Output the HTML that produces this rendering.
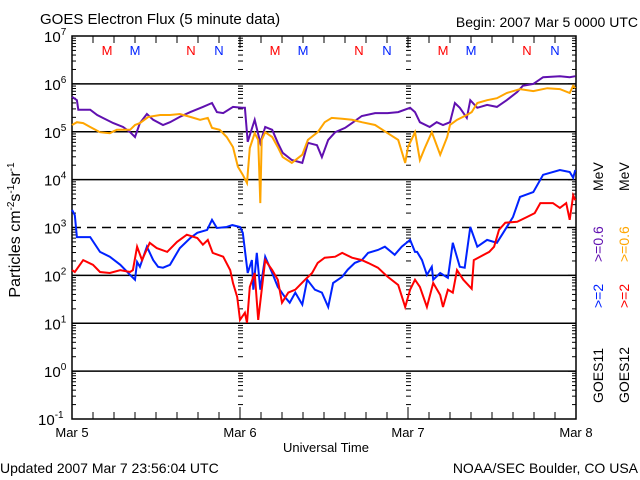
<!DOCTYPE html>
<html><head><meta charset="utf-8"><style>
body{margin:0;background:#fff;width:640px;height:480px;overflow:hidden}
svg{display:block;font-family:"Liberation Sans",sans-serif}
</style></head><body>
<svg id="chart" width="640" height="480">
<text x="40" y="24" font-size="15">GOES Electron Flux (5 minute data)</text>
<text x="638" y="27" font-size="14" text-anchor="end">Begin: 2007 Mar 5 0000 UTC</text>
<text x="0" y="473" font-size="14">Updated 2007 Mar  7 23:56:04 UTC</text>
<text x="638" y="473" font-size="14" text-anchor="end">NOAA/SEC Boulder, CO USA</text>
<text x="326" y="452" font-size="13" text-anchor="middle">Universal Time</text>
<text transform="translate(20,230) rotate(-90)" font-size="16" text-anchor="middle">Particles cm<tspan font-size="10" dy="-6">-2</tspan><tspan dy="6">s</tspan><tspan font-size="10" dy="-6">-1</tspan><tspan dy="6">sr</tspan><tspan font-size="10" dy="-6">-1</tspan></text>
<g font-size="14">
<text transform="translate(603,403) rotate(-90)" fill="#000">GOES11</text>
<text transform="translate(603,308) rotate(-90)" fill="#0022ff">&gt;=2</text>
<text transform="translate(603,262) rotate(-90)" fill="#6010b0">&gt;=0.6</text>
<text transform="translate(603,191) rotate(-90)" fill="#000">MeV</text>
<text transform="translate(629,403) rotate(-90)" fill="#000">GOES12</text>
<text transform="translate(629,308) rotate(-90)" fill="#ff0000">&gt;=2</text>
<text transform="translate(629,262) rotate(-90)" fill="#ffa500">&gt;=0.6</text>
<text transform="translate(629,191) rotate(-90)" fill="#000">MeV</text>
</g>
</svg>
<script>
const dayLabels=["Mar 5","Mar 6","Mar 7","Mar 8"];
const yDecades=[-1,0,1,2,3,4,5,6,7];
const p11Hours=[0,0.7,0.9,2.6,3.6,4.4,5.9,7.3,8.3,9.0,9.7,10.7,11.6,13.0,14.0,15.4,16.9,18.7,20.0,20.7,21.6,23.0,24.3,24.7,25.1,26.1,26.9,27.6,28.6,29.4,30.1,31.4,32.9,33.7,35.0,35.7,36.6,37.6,39.0,40.0,41.4,43.3,45.1,46.6,48.3,49.0,49.7,51.1,52.1,53.0,54.0,54.7,55.4,56.4,56.9,57.9,59.3,60.7,62.1,63.6,64.4,65.9,67.3,69.7,71.1,71.9];
const p11Log=[5.73,5.66,5.46,5.46,5.35,5.29,5.18,5.10,4.99,4.89,5.18,5.37,5.25,5.14,5.20,5.31,5.41,5.52,5.60,5.41,5.39,5.52,5.50,5.50,4.79,5.25,4.77,5.10,5.04,4.77,4.56,4.41,4.35,4.77,4.72,4.47,4.83,4.99,5.08,5.18,5.33,5.39,5.39,5.41,5.50,5.41,5.20,5.10,5.20,5.14,5.20,5.60,5.50,5.29,5.66,5.50,5.56,5.52,5.66,5.83,5.96,6.00,6.14,6.16,6.14,6.16];
const p12Hours=[0,0.7,1.6,2.6,4.0,5.4,6.4,8.3,9.0,9.7,10.9,12.6,14.0,15.4,16.9,18.3,19.4,20.0,21.1,22.1,23.0,23.7,24.4,25.0,25.4,26.1,26.6,26.9,27.1,27.6,28.6,29.4,30.1,31.4,32.9,33.7,35.1,36.1,37.1,38.6,40.0,41.4,43.3,45.1,46.6,47.6,48.0,49.0,49.7,50.4,51.4,52.6,53.6,54.0,55.0,56.4,57.1,57.9,59.3,60.7,62.1,64.0,65.9,67.9,69.7,71.1,71.6,71.9];
const p12Log=[5.14,5.20,5.18,5.10,4.99,4.97,5.04,5.04,5.14,5.18,5.31,5.35,5.35,5.37,5.31,5.25,5.29,5.08,5.04,4.89,4.68,4.27,4.10,3.93,4.66,4.97,4.83,3.51,4.83,4.99,4.89,4.68,4.47,4.35,4.52,4.83,4.99,5.20,5.29,5.27,5.25,5.20,5.14,4.97,4.83,4.35,4.68,4.99,4.41,4.66,4.99,4.52,4.89,5.14,5.25,5.35,5.41,5.60,5.66,5.70,5.81,5.89,5.85,5.91,5.89,5.81,5.96,5.91];
const e11Hours=[0,0.4,0.7,2.6,4.0,5.4,6.9,8.3,9.0,9.3,9.7,10.7,11.6,12.3,13.0,14.0,15.4,16.9,17.9,19.3,20.0,20.7,22.1,22.9,24.0,24.4,25.1,25.7,25.9,26.4,26.9,27.6,28.6,29.4,30.4,31.1,31.9,32.9,33.6,34.7,35.7,36.6,37.3,38.6,39.4,40.4,41.4,42.3,43.7,44.7,46.1,47.1,48.3,49.0,49.3,50.0,50.7,51.4,51.6,52.6,53.7,54.4,55.4,56.1,56.9,57.9,59.3,60.7,61.6,63.0,64.0,65.9,67.3,69.7,71.1,71.6,71.9];
const e11Log=[3.37,3.26,2.80,2.80,2.49,2.39,2.22,2.01,1.91,2.28,2.18,2.60,2.32,2.18,2.16,2.22,2.57,2.78,2.89,2.95,3.16,2.99,3.01,3.05,3.01,2.89,2.05,2.32,1.70,2.47,1.70,2.39,2.05,1.76,1.55,1.43,1.64,1.39,1.91,1.70,1.64,1.34,1.84,1.97,2.12,2.26,2.32,2.47,2.53,2.60,2.43,2.60,2.74,2.49,2.49,2.32,2.01,2.18,1.91,2.05,1.95,2.68,2.18,2.16,3.01,2.60,2.74,2.68,2.89,3.22,3.64,3.74,4.10,4.20,4.16,4.04,4.20];
const e12Hours=[0,0.4,1.6,3.0,4.0,5.4,6.9,8.3,8.7,9.3,10.0,11.1,12.1,13.6,15.0,16.4,17.9,18.7,19.4,20.1,21.6,22.6,23.0,23.6,24.0,24.7,25.0,25.4,26.1,26.6,27.6,28.6,29.4,30.0,30.9,31.9,33.3,34.3,35.1,36.1,37.6,38.6,40.0,41.4,42.3,43.7,45.1,46.6,47.6,48.3,49.0,49.7,50.7,51.6,52.6,53.0,53.7,54.4,55.0,55.9,57.1,57.4,58.3,59.6,60.3,61.0,61.9,63.6,65.0,66.1,66.9,68.7,69.7,70.6,71.1,71.6,71.9];
const e12Log=[2.11,2.07,2.32,2.22,2.07,2.05,2.11,2.07,2.11,2.60,2.32,2.68,2.57,2.49,2.70,2.85,2.78,2.64,2.74,2.47,2.39,2.11,1.84,1.55,1.07,1.22,1.01,1.76,2.05,1.07,2.32,2.11,1.91,1.43,1.64,1.70,1.91,2.05,2.26,2.37,2.39,2.47,2.37,2.32,2.26,2.16,1.97,1.80,1.34,1.70,1.91,1.76,1.34,1.84,1.59,1.34,1.70,1.64,2.11,1.91,1.72,2.32,2.39,2.49,2.60,2.95,3.10,3.12,3.22,3.30,3.51,3.51,3.41,3.51,3.16,3.67,3.57];
const mnLabels=["M","M","N","N"];
const mnHours=[5,9,17,21];

const svg=document.getElementById('chart');
const NS='http://www.w3.org/2000/svg';
const X0=72,X1=576,Y7=36,Y_1=419;
const xs=h=>X0+(X1-X0)*h/72;
const ys=l=>Y7+(7-l)*(Y_1-Y7)/8;
function mk(tag,attrs,parent){const e=document.createElementNS(NS,tag);for(const k in attrs)e.setAttribute(k,attrs[k]);(parent||svg).appendChild(e);return e;}

yDecades.forEach(d=>{
  if(d<=-1||d>=7)return;
  const ln=mk('line',{x1:X0,x2:X1,y1:ys(d),y2:ys(d),stroke:'#000','stroke-width':1.5});
  if(d===3)ln.setAttribute('stroke-dasharray','9,6');
  
  
});
const tg=mk('g',{stroke:'#000','stroke-width':1});


for(let d=-1;d<7;d++){
  for(let m=1;m<=10;m++){
    const y=ys(d+Math.log10(m));
    const len=(m===1||m===10)?8:4;
    mk('line',{x1:X0,x2:X0+len,y1:y,y2:y},tg);
    mk('line',{x1:X1,x2:X1-len,y1:y,y2:y},tg);
    if(m>1&&m<10){
      [1,2].forEach(k=>{mk('line',{x1:xs(24*k)-2,x2:xs(24*k)+3,y1:y,y2:y},tg);});
    }
  }
}
for(let h=3;h<72;h+=3){
  const len=h%24===0?12:7;
  mk('line',{x1:xs(h),x2:xs(h),y1:Y_1,y2:Y_1-len},tg);
  mk('line',{x1:xs(h),x2:xs(h),y1:Y7,y2:Y7+len},tg);
}
const fr=mk('rect',{x:X0,y:Y7,width:X1-X0,height:Y_1-Y7,fill:'none',stroke:'#000','stroke-width':1.5});


yDecades.forEach(d=>{
  const t=mk('text',{x:d<0?38:44,y:ys(d)+6,'font-size':15});
  
  
  t.textContent='10';
  const s=mk('tspan',{'font-size':10,dy:-7},t);s.textContent=String(d);
});
dayLabels.forEach((s,i)=>{
  const t=mk('text',{x:xs(24*i),y:437,'font-size':13,'text-anchor':'middle'});
  
  
  t.textContent=s;
});
for(let day=0;day<3;day++){
  mnLabels.forEach((s,i)=>{
    const t=mk('text',{x:xs(24*day+mnHours[i]),y:55,'font-size':13,'text-anchor':'middle',fill:i%2===0?'#ff0000':'#0022ff'});
    
    
    t.textContent=s;
  });
}
function series(hours,logs,color,name){
  const pts=hours.map((h,i)=>xs(h).toFixed(1)+','+ys(logs[i]).toFixed(1)).join(' ');
  const pl=mk('polyline',{points:pts,fill:'none',stroke:color,'stroke-width':2,'stroke-linejoin':'miter'});
  
  
}
series(p11Hours,p11Log,'#6010b0','series-goes11-ge06');
series(p12Hours,p12Log,'#ffa500','series-goes12-ge06');
series(e11Hours,e11Log,'#0022ff','series-goes11-ge2');
series(e12Hours,e12Log,'#ff0000','series-goes12-ge2');
</script>
</body></html>
